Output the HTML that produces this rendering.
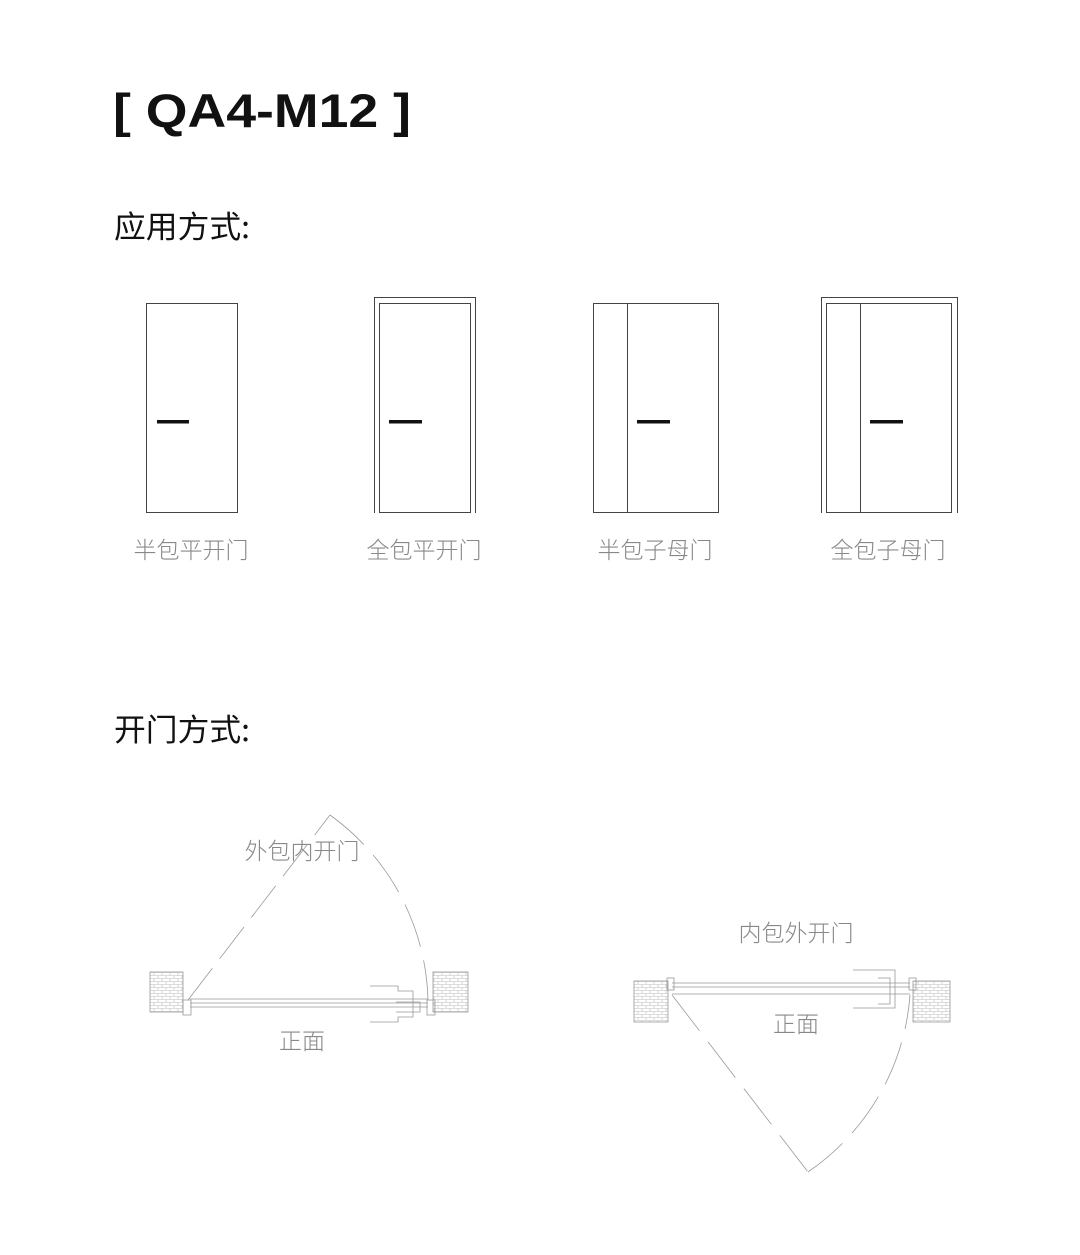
<!DOCTYPE html>
<html><head><meta charset="utf-8"><style>
html,body{margin:0;padding:0;background:#fff;}
svg{display:block;}
</style></head><body>
<svg width="1080" height="1255" viewBox="0 0 1080 1255" xmlns="http://www.w3.org/2000/svg" font-family="Liberation Sans, Noto Sans CJK SC, sans-serif">
<defs>
<pattern id="brick" width="8" height="6" patternUnits="userSpaceOnUse">
<rect width="8" height="6" fill="#fff"/>
<path d="M0 0.5H8M0 3.5H8M2 0.5V3.5M6 3.5V6.5" stroke="#bbb" stroke-width="0.6" fill="none"/>
</pattern>
</defs>
<text x="113" y="127" font-size="47" font-weight="bold" fill="#111" textLength="298" lengthAdjust="spacingAndGlyphs">[ QA4-M12 ]</text>
<text x="114" y="238" font-size="31" fill="#111" font-family="Noto Sans CJK SC, sans-serif" textLength="136" lengthAdjust="spacingAndGlyphs">应用方式:</text>
<text x="114" y="741" font-size="31" fill="#111" font-family="Noto Sans CJK SC, sans-serif" textLength="136" lengthAdjust="spacingAndGlyphs">开门方式:</text>

<g fill="none" stroke="#444" stroke-width="1">
<rect x="146.5" y="303.5" width="91" height="209"/>
<path d="M374.5 513V297.5H475.5V513"/>
<rect x="379.5" y="303.5" width="91" height="209"/>
<rect x="593.5" y="303.5" width="125" height="209"/>
<line x1="627.5" y1="303" x2="627.5" y2="512"/>
<path d="M821.5 513V297.5H957.5V513"/>
<rect x="826.5" y="303.5" width="125" height="209"/>
<line x1="860.5" y1="303" x2="860.5" y2="512"/>
</g>
<g fill="#111">
<rect x="157" y="420" width="32" height="3.5"/>
<rect x="389" y="420" width="33" height="3.5"/>
<rect x="637" y="420" width="33" height="3.5"/>
<rect x="870" y="420" width="33" height="3.5"/>
</g>
<g font-size="23" fill="#888" text-anchor="middle" font-family="Noto Sans CJK SC, sans-serif" font-weight="300">
<text x="191" y="558">半包平开门</text>
<text x="424" y="558">全包平开门</text>
<text x="655" y="558">半包子母门</text>
<text x="888" y="558">全包子母门</text>
<text x="302" y="859">外包内开门</text>
<text x="302" y="1049">正面</text>
<text x="796" y="941">内包外开门</text>
<text x="796" y="1032">正面</text>
</g>

<!-- left plan -->
<g stroke="#999" stroke-width="0.8" fill="none">
<rect x="150" y="972" width="33" height="40" fill="url(#brick)"/>
<rect x="433" y="972" width="35" height="40" fill="url(#brick)"/>
<rect x="183" y="1000" width="8" height="15"/>
<rect x="427" y="1000" width="8" height="15"/>
<line x1="190" y1="999" x2="428" y2="999"/>
<line x1="190" y1="1003" x2="428" y2="1003"/>
<line x1="190" y1="1007" x2="428" y2="1007"/>
<path d="M370 986H398V991H413V1017H398V1022H370"/>
<path d="M396 1002H420V1012H396"/>
<path d="M188 1000L330 815" stroke-dasharray="40 12"/>
<path d="M330 815A235 235 0 0 1 428 1000" stroke-dasharray="45 14"/>
</g>

<!-- right plan -->
<g stroke="#999" stroke-width="0.8" fill="none">
<rect x="634" y="981" width="34" height="41" fill="url(#brick)"/>
<rect x="913" y="981" width="37" height="41" fill="url(#brick)"/>
<rect x="667" y="978" width="7" height="12"/>
<rect x="909" y="978" width="7" height="12"/>
<line x1="672" y1="983" x2="910" y2="983"/>
<line x1="672" y1="987" x2="910" y2="987"/>
<line x1="672" y1="994" x2="910" y2="994"/>
<path d="M853 970H895V1008H853"/>
<path d="M878 978H890V1004H878"/>
<path d="M672 995L808 1172" stroke-dasharray="45 14"/>
<path d="M808 1172A235 235 0 0 0 910 995" stroke-dasharray="45 14"/>
</g>
</svg>
</body></html>
